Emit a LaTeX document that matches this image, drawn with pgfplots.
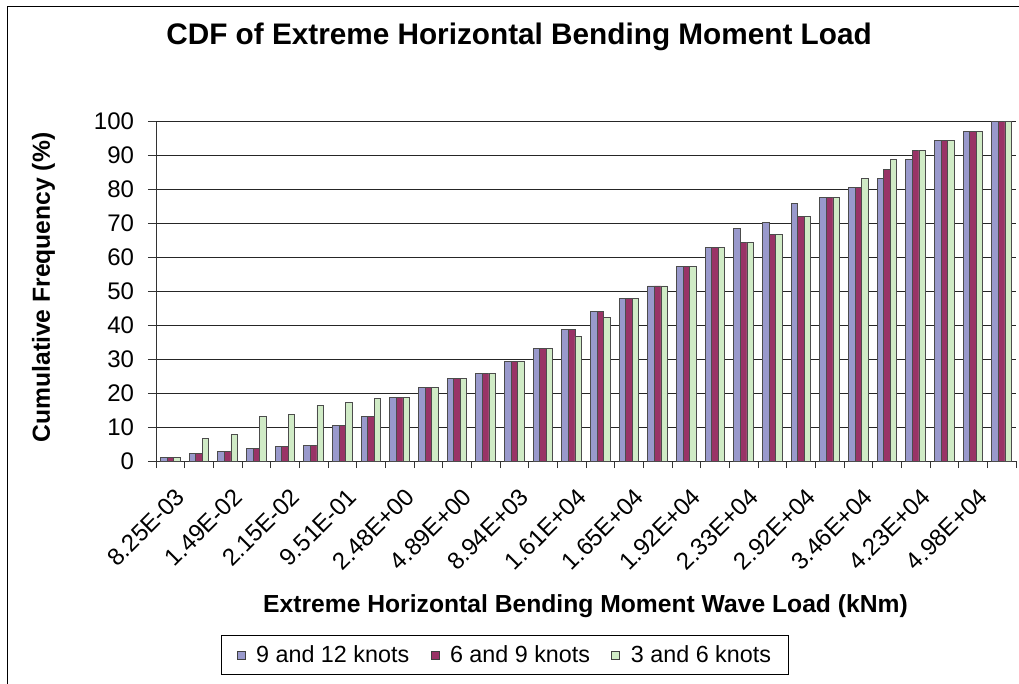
\documentclass[border=0pt]{standalone}
\usepackage{fontspec}
\setmainfont{Liberation Sans}
\usepackage{pgfplots}
\pgfplotsset{compat=1.18}
\usepackage{pgfplotstable}

\definecolor{sblue}{HTML}{9999CC}
\definecolor{sred}{HTML}{993366}
\definecolor{sgreen}{HTML}{D0EBC6}

% cumulative frequency (%) per load class, 30 classes
\pgfplotstableread{
x  a     b     c
1  1.0   1.0   1.0
2  2.1   2.1   6.6
3  2.9   2.9   7.8
4  3.8   3.8   13.1
5  4.4   4.4   13.7
6  4.7   4.7   16.4
7  10.4  10.4  17.3
8  13.1  13.1  18.5
9  18.7  18.7  18.7
10 21.7  21.7  21.7
11 24.4  24.4  24.4
12 25.9  25.9  25.9
13 29.4  29.4  29.4
14 33.2  33.2  33.2
15 38.8  38.8  36.7
16 44.1  44.1  42.3
17 47.9  47.9  47.9
18 51.6  51.6  51.6
19 57.3  57.3  57.3
20 62.9  62.9  62.9
21 68.6  64.5  64.5
22 70.3  66.7  66.7
23 75.9  72.0  72.0
24 77.6  77.6  77.6
25 80.6  80.6  83.3
26 83.3  86.0  88.9
27 88.9  91.6  91.6
28 94.5  94.5  94.5
29 97.2  97.2  97.2
30 100   100   100
}\cdf

\begin{document}
\begin{tikzpicture}
\useasboundingbox (0pt,0pt) rectangle (764.25pt,-513pt);
\draw[black, line width=0.75pt] (5.25pt,-513pt) -- (5.25pt,-5.25pt) -- (764.25pt,-5.25pt);
\begin{axis}[
    at={(117pt,-345.75pt)}, anchor=south west,
    scale only axis,
    width=645pt, height=254.5pt,
    ybar, ybar=0pt, bar width=4.9pt,
    xmin=0.5, xmax=30.5,
    ymin=0, ymax=100,
    axis lines*=left,
    axis line style={black!80, line width=0.75pt},
    ytick={0,10,...,100},
    xtick={1,3,...,29},
    xticklabels={8.25E-03,1.49E-02,2.15E-02,9.51E-01,2.48E+00,4.89E+00,8.94E+03,1.61E+04,1.65E+04,1.92E+04,2.33E+04,2.92E+04,3.46E+04,4.23E+04,4.98E+04},
    minor xtick={0.5,1.5,...,30.5},
    tick align=outside,
    major x tick style={draw=none},
    minor x tick style={black!80, line width=0.75pt},
    major y tick style={black!80, line width=0.75pt},
    major tick length=6pt, minor tick length=5.25pt,
    ymajorgrids,
    major grid style={black!85, line width=0.7pt},
    /pgf/number format/assume math mode=true,
    tick label style={font=\fontsize{18}{21}\selectfont},
    xticklabel style={rotate=45, anchor=north east, inner sep=0pt, xshift=-7pt, yshift=-11.5pt},
    yticklabel style={xshift=-7pt},
    title={\bfseries CDF of Extreme Horizontal Bending Moment Load},
    title style={font=\fontsize{22.3}{26}\selectfont, at={(axis description cs:0.4221,1.2025)}, anchor=base, yshift=0pt},
    xlabel={\bfseries Extreme Horizontal Bending Moment Wave Load (kNm)},
    xlabel style={font=\fontsize{18.5}{21}\selectfont, at={(axis description cs:0.4994,-0.445)}, anchor=base},
    ylabel={\bfseries Cumulative Frequency (\%)},
    ylabel style={font=\fontsize{18.5}{21}\selectfont, at={(axis description cs:-0.1233,0.5113)}, anchor=base, rotate=0},
    legend columns=3,
    legend style={at={(0.406,-0.572)}, anchor=center, draw=black, line width=0.75pt,
        font=\fontsize{17.5}{20}\selectfont, inner xsep=11pt, inner ysep=5.5pt,
        /tikz/every odd column/.append style={column sep=6pt},
        /tikz/every even column/.append style={column sep=14pt}},
    legend image code/.code={\draw[#1, draw=black!75, line width=0.6pt] (0pt,-3pt) rectangle (6pt,3pt);},
]
\addplot[fill=sblue, draw=black!70, line width=0.6pt] table[x=x, y=a] {\cdf};
\addlegendentry{9 and 12 knots}
\addplot[fill=sred, draw=black!70, line width=0.6pt] table[x=x, y=b] {\cdf};
\addlegendentry{6 and 9 knots}
\addplot[fill=sgreen, draw=black!70, line width=0.6pt] table[x=x, y=c] {\cdf};
\addlegendentry{3 and 6 knots}
\end{axis}
\end{tikzpicture}
\end{document}
